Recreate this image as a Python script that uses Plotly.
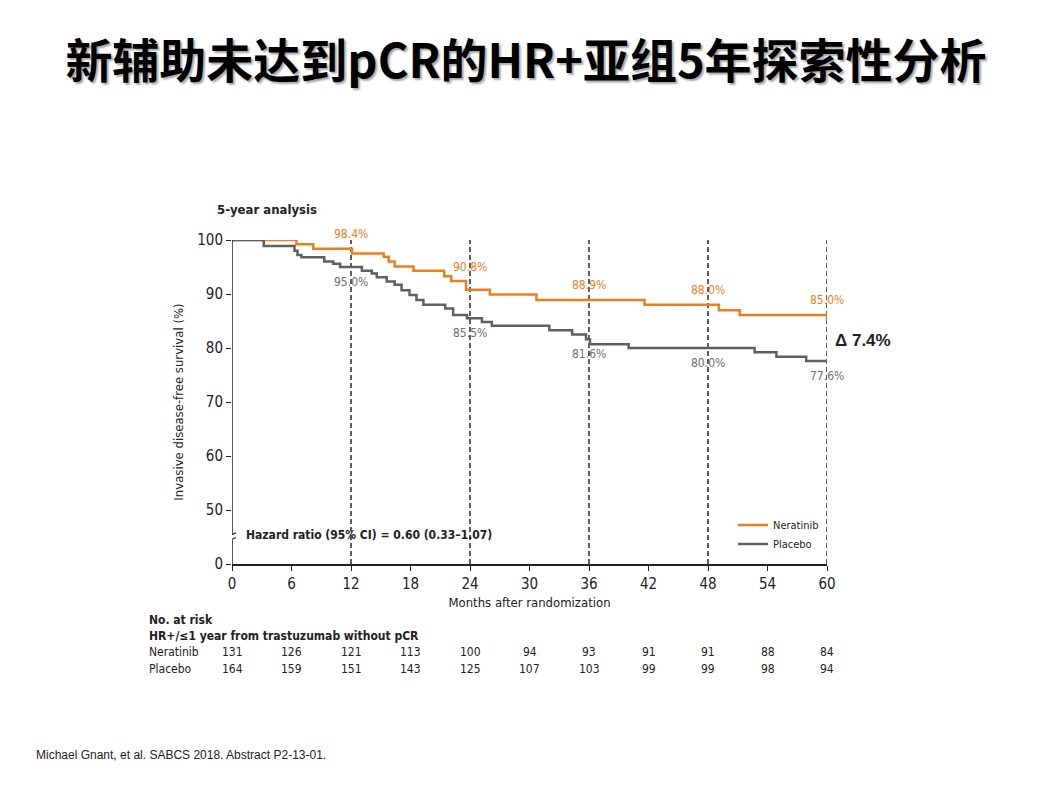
# Kaplan-Meier style iDFS chart: neratinib vs placebo, HR+ subgroup without pCR
import plotly.graph_objects as go

# step curves (months, survival %)
neratinib_t = [0, 6.5, 8.2, 12.1, 15.3, 15.8, 16.4, 18.3, 21.4, 22.1, 23.6, 26.0, 30.7, 41.6, 49.1, 51.2, 60.0]
neratinib_v = [100, 99.2, 98.4, 97.5, 96.9, 96.0, 95.1, 94.3, 93.3, 92.4, 90.8, 89.9, 88.9, 88.0, 87.0, 86.1, 85.0]

placebo_t = [0, 3.2, 6.3, 6.6, 7.0, 9.3, 10.2, 10.9, 13.1, 14.1, 14.6, 15.6, 16.4, 17.1, 17.9, 18.6, 19.3,
             21.5, 22.3, 23.7, 25.2, 26.2, 32.0, 34.3, 35.7, 36.1, 40.0, 52.7, 54.9, 57.9, 60.0]
placebo_v = [100, 98.9, 98.0, 97.2, 96.8, 96.0, 95.6, 95.0, 94.3, 93.8, 93.1, 92.3, 91.7, 90.7, 89.8, 88.9, 88.0,
             87.3, 86.1, 85.5, 84.8, 84.1, 83.3, 82.5, 81.6, 80.7, 80.0, 79.2, 78.4, 77.6, 77.6]

# yearly landmark estimates
landmark_months = [12, 24, 36, 48, 60]
neratinib_pct = [98.4, 90.8, 88.9, 88.0, 85.0]
placebo_pct = [95.0, 85.5, 81.6, 80.0, 77.6]
neratinib_label_shift = [15, 23, 15, 15, 21]

# number at risk table
risk_months = [0, 6, 12, 18, 24, 30, 36, 42, 48, 54, 60]
risk_neratinib = [131, 126, 121, 113, 100, 94, 93, 91, 91, 88, 84]
risk_placebo = [164, 159, 151, 143, 125, 107, 103, 99, 99, 98, 94]

# y axis is broken: the "0" tick sits where 40 would be
y_tickvals = [40, 50, 60, 70, 80, 90, 100]
y_ticktext = ["0", "50", "60", "70", "80", "90", "100"]

ORANGE = "#F07D1C"
GREY = "#606060"
INK = "#222222"
NARROW = "DejaVu Sans Condensed, Liberation Sans Narrow, Liberation Sans, sans-serif"
ARIAL = "Liberation Sans, Arial, sans-serif"

# the page puts the figure 8px in from the top-left corner; plot area sits at 232..827 x 240..564
def px_x(px):
    return (px - 232) / 595


def px_y(px):
    return (564 - px) / 324


fig = go.Figure()

fig.add_trace(go.Scatter(
    x=neratinib_t, y=neratinib_v, mode="lines", name="Neratinib",
    line=dict(color=ORANGE, width=2.5, shape="hv")
))
fig.add_trace(go.Scatter(
    x=placebo_t, y=placebo_v, mode="lines", name="Placebo",
    line=dict(color=GREY, width=2.5, shape="hv")
))

# dashed landmark lines
for m in landmark_months:
    fig.add_shape(type="line", xref="x", yref="y", x0=m, x1=m, y0=40, y1=100.4,
                  line=dict(color="#2a2a2a", width=1.5, dash="5px,3px"), layer="below")

# y axis line with a break
fig.add_shape(type="line", xref="x", yref="y", x0=0, x1=0, y0=40, y1=44.5,
              line=dict(color=INK, width=1.5))
fig.add_shape(type="line", xref="x", yref="y", x0=0, x1=0, y0=45.4, y1=100,
              line=dict(color=INK, width=1.5))
fig.add_shape(type="line", xref="x", yref="y", x0=-0.4, x1=0.4, y0=44.2, y1=44.9,
              line=dict(color=INK, width=1.2))
fig.add_shape(type="line", xref="x", yref="y", x0=-0.4, x1=0.4, y0=45.1, y1=45.8,
              line=dict(color=INK, width=1.2))

annotations = []
for m, v, s in zip(landmark_months, neratinib_pct, neratinib_label_shift):
    annotations.append(dict(x=m, y=v, xref="x", yref="y", text=f"{v:.1f}%", showarrow=False,
                            yshift=s, font=dict(family=NARROW, size=12, color=ORANGE)))
for m, v in zip(landmark_months, placebo_pct):
    annotations.append(dict(x=m, y=v, xref="x", yref="y", text=f"{v:.1f}%", showarrow=False,
                            yshift=-15, font=dict(family=NARROW, size=12, color="#707070")))

delta = neratinib_pct[-1] - placebo_pct[-1]
annotations.append(dict(x=px_x(833), y=px_y(340), xref="paper", yref="paper",
                        text=f"<b>\u0394 {delta:.1f}%</b>", showarrow=False, xanchor="left", yanchor="middle",
                        font=dict(family=ARIAL, size=17, color=INK)))

annotations.append(dict(x=px_x(244), y=px_y(535), xref="paper", yref="paper", xanchor="left",
                        yanchor="middle", showarrow=False,
                        text="<b>Hazard ratio (95% CI) = 0.60 (0.33\u20131.07)</b>",
                        font=dict(family=NARROW, size=12, color=INK)))

annotations.append(dict(x=px_x(215), y=px_y(209), xref="paper", yref="paper", xanchor="left",
                        yanchor="middle", showarrow=False,
                        text="<b>5-year analysis</b>", font=dict(family=NARROW, size=13, color=INK)))

# risk table
table_rows = [("<b>No. at risk</b>", 620), ("<b>HR+/\u22641 year from trastuzumab without pCR</b>", 636),
              ("Neratinib", 652), ("Placebo", 669)]
for label, row_px in table_rows:
    annotations.append(dict(x=px_x(147), y=px_y(row_px), xref="paper", yref="paper", xanchor="left",
                            yanchor="middle", showarrow=False, text=label,
                            font=dict(family=NARROW, size=12, color=INK)))
for m, a, b in zip(risk_months, risk_neratinib, risk_placebo):
    annotations.append(dict(x=m, y=px_y(652), xref="x", yref="paper", yanchor="middle", showarrow=False,
                            text=str(a), font=dict(family=NARROW, size=12, color=INK)))
    annotations.append(dict(x=m, y=px_y(669), xref="x", yref="paper", yanchor="middle", showarrow=False,
                            text=str(b), font=dict(family=NARROW, size=12, color=INK)))

# footnote
annotations.append(dict(x=px_x(34), y=px_y(755), xref="paper", yref="paper", showarrow=False,
                        xanchor="left", yanchor="middle",
                        text="Michael Gnant, et al. SABCS 2018. Abstract P2-13-01.",
                        font=dict(family=ARIAL, size=12, color=INK)))

fig.update_layout(
    width=1054, height=785,
    margin=dict(l=224, r=235, t=232, b=229),
    paper_bgcolor="white", plot_bgcolor="white",
    title=dict(text="<b>新辅助未达到pCR的HR+亚组5年探索性分析</b>", x=(526 - 8) / 1054, xanchor="center",
               y=1 - 54 / 785, yanchor="middle",
               font=dict(family="Noto Sans CJK SC", size=47, color="black",
                         shadow="2px 2px 2px #a8a8a8")),
    showlegend=True,
    legend=dict(x=0.842, y=0.165, xanchor="left", yanchor="top", bgcolor="rgba(0,0,0,0)",
                font=dict(family=NARROW, size=11, color=INK), tracegroupgap=0, itemwidth=30),
    xaxis=dict(range=[0, 60], tickvals=risk_months, showgrid=False, zeroline=False,
               showline=True, linecolor=INK, linewidth=1.5, ticks="outside", ticklen=5,
               tickcolor=INK, tickfont=dict(family=NARROW, size=15, color=INK),
               title=dict(text="Months after randomization", standoff=6,
                          font=dict(family=NARROW, size=13, color=INK))),
    yaxis=dict(range=[40, 100], tickvals=y_tickvals, ticktext=y_ticktext, showgrid=False,
               zeroline=False, showline=False, ticks="outside", ticklen=5, tickcolor=INK,
               tickfont=dict(family=NARROW, size=15, color=INK),
               title=dict(text="Invasive disease-free survival (%)", standoff=10,
                          font=dict(family=NARROW, size=13, color=INK))),
    annotations=annotations,
)

fig.write_html("out.html")
